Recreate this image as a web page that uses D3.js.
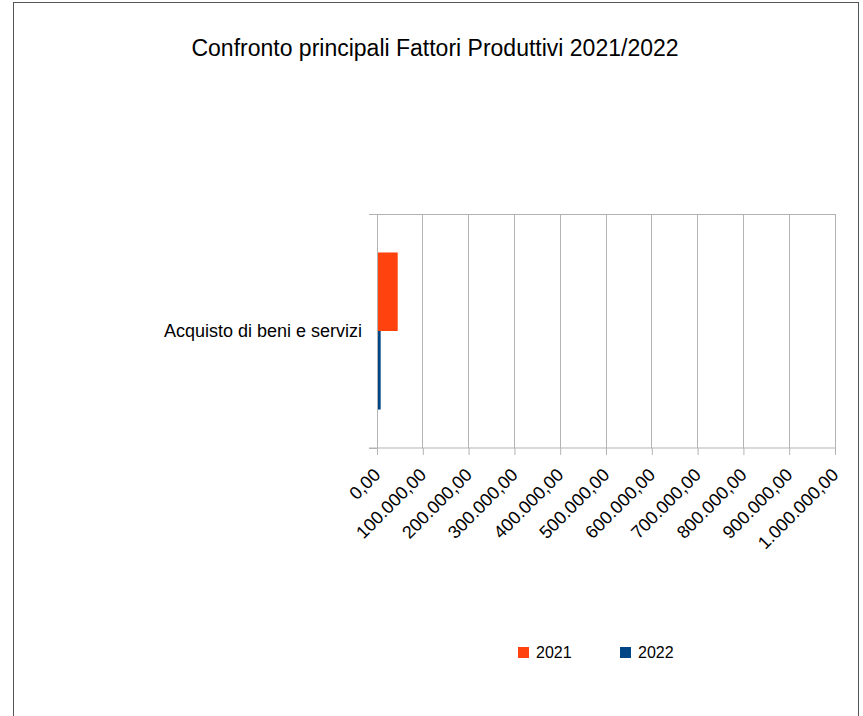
<!DOCTYPE html>
<html>
<head>
<meta charset="utf-8">
<script src="https://cdn.jsdelivr.net/npm/d3@7"></script>
<style>
  body { margin: 0; background: #fff; }
  text { font-family: "Liberation Sans", Arial, sans-serif; fill: #000; }
</style>
</head>
<body>
<div class="chart"></div>
<script>
// chart setup
var width = 863;
var height = 716;

var title = "Confronto principali Fattori Produttivi 2021/2022";
var categories = ["Acquisto di beni e servizi"];
var seriesNames = ["2021", "2022"];
var values2021 = [45200];
var values2022 = [8000];
var xTicks = [0, 100000, 200000, 300000, 400000, 500000, 600000, 700000, 800000, 900000, 1000000];
var colors = ["#ff420e", "#004586"];

// plot area
var plot = { left: 377, right: 835, top: 214, bottom: 448 };

const svg = d3.select(".chart")
  .append("svg")
  .attr("width", width)
  .attr("height", height);

// outer frame
svg.append("rect")
   .attr("x", 13.5)
   .attr("y", 2.5)
   .attr("width", 845)
   .attr("height", 720)
   .attr("fill", "none")
   .attr("stroke", "#555")
   .attr("stroke-width", 1);

svg.append("text")
   .attr("x", 435)
   .attr("y", 56)
   .attr("text-anchor", "middle")
   .style("font-size", "23px")
   .text(title);

const xScale = d3.scaleLinear()
  .domain([0, 1000000])
  .range([plot.left, plot.right]);

const yScale = d3.scaleBand()
  .domain(categories)
  .range([plot.top, plot.bottom]);

const subScale = d3.scaleBand()
  .domain(seriesNames)
  .range([0, yScale.bandwidth()])
  .paddingOuter(0.49)
  .paddingInner(0);

// gridlines
svg.append("g")
   .selectAll("line")
   .data(xTicks)
   .enter()
   .append("line")
   .attr("x1", d => xScale(d))
   .attr("x2", d => xScale(d))
   .attr("y1", plot.top)
   .attr("y2", plot.bottom)
   .attr("stroke", "#b3b3b3")
   .attr("stroke-width", 1)
   .attr("shape-rendering", "crispEdges");

// top border
svg.append("line")
   .attr("x1", plot.left - 8)
   .attr("x2", plot.right)
   .attr("y1", plot.top)
   .attr("y2", plot.top)
   .attr("stroke", "#b3b3b3")
   .attr("shape-rendering", "crispEdges");

// bars
var table = categories.map((c, i) => ({ cat: c, vals: [values2021[i], values2022[i]] }));
table.forEach(row => {
  svg.append("g")
     .selectAll("rect")
     .data(row.vals)
     .enter()
     .append("rect")
     .attr("x", xScale(0))
     .attr("y", (d, i) => yScale(row.cat) + subScale(seriesNames[i]))
     .attr("width", d => xScale(d) - xScale(0))
     .attr("height", subScale.bandwidth())
     .attr("fill", (d, i) => colors[i]);
});

// x axis
const fmt = d3.formatLocale({ decimal: ",", thousands: ".", grouping: [3], currency: ["", ""] }).format(",.2f");
const xAxis = d3.axisBottom(xScale)
  .tickValues(xTicks)
  .tickSize(7)
  .tickPadding(4)
  .tickFormat(fmt);

const gx = svg.append("g")
   .attr("id", "x-axis")
   .attr("transform", "translate(0," + plot.bottom + ")")
   .call(xAxis);
gx.select(".domain")
  .attr("d", "M" + (plot.left - 8) + ",0H" + plot.right)
  .attr("stroke", "#b3b3b3");
gx.selectAll(".tick line").attr("stroke", "#b3b3b3");
gx.selectAll(".tick text")
  .style("font-size", "18px")
  .attr("text-anchor", "end")
  .attr("x", 0)
  .attr("y", 0)
  .attr("dy", "0")
  .attr("transform", "translate(4,28) rotate(-45)");

// y axis
const yAxis = d3.axisLeft(yScale).tickSize(0).tickPadding(15);
const gy = svg.append("g")
   .attr("id", "y-axis")
   .attr("transform", "translate(" + plot.left + ",0)")
   .call(yAxis);
gy.select(".domain").attr("stroke", "#b3b3b3");
gy.selectAll(".tick text").style("font-size", "18px");
// category boundary ticks
gy.selectAll(".bound")
  .data([plot.top, plot.bottom])
  .enter()
  .append("line")
  .attr("x1", -8)
  .attr("x2", 0)
  .attr("y1", d => d)
  .attr("y2", d => d)
  .attr("stroke", "#b3b3b3")
  .attr("shape-rendering", "crispEdges");

// legend
var legendX = [518, 620];
const legend = svg.append("g").attr("id", "legend");
legend.selectAll("rect")
  .data(seriesNames)
  .enter()
  .append("rect")
  .attr("x", (d, i) => legendX[i])
  .attr("y", 647)
  .attr("width", 11)
  .attr("height", 11)
  .attr("fill", (d, i) => colors[i]);
legend.selectAll("text")
  .data(seriesNames)
  .enter()
  .append("text")
  .attr("x", (d, i) => legendX[i] + 18)
  .attr("y", 658)
  .style("font-size", "16px")
  .text(d => d);
</script>
</body>
</html>
